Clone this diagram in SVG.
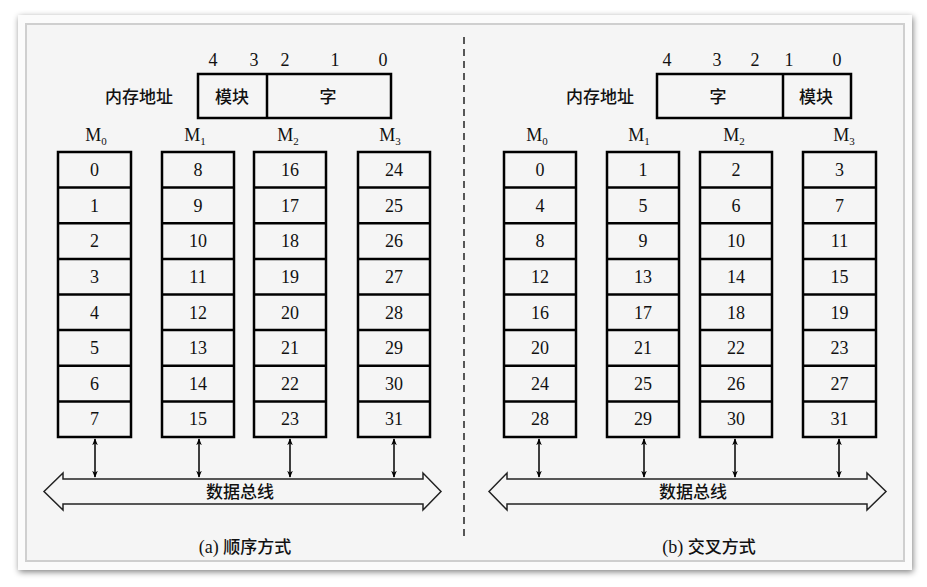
<svg xmlns="http://www.w3.org/2000/svg" width="927" height="587" viewBox="0 0 927 587">
<defs>
<filter id="sh" x="-5%" y="-5%" width="110%" height="110%"><feGaussianBlur in="SourceAlpha" stdDeviation="3"/><feOffset dx="1" dy="2"/><feComponentTransfer><feFuncA type="linear" slope="0.5"/></feComponentTransfer><feMerge><feMergeNode/><feMergeNode in="SourceGraphic"/></feMerge></filter>
<marker id="ah" viewBox="0 0 10 10" refX="9" refY="5" markerWidth="7" markerHeight="9" orient="auto-start-reverse" markerUnits="userSpaceOnUse"><path d="M0,1 L10,5 L0,9 L3,5 Z" fill="#000"/></marker>
<style>
.cell{fill:none;stroke:#000;stroke-width:2.5}
.t{font-family:"Liberation Serif","Times New Roman",serif;font-size:18px;fill:#111;text-anchor:middle}
.c{font-family:"Noto Sans CJK SC","Noto Sans CJK JP",sans-serif;font-size:17px;font-weight:500;fill:#111;text-anchor:middle}
.bus{fill:#f5f5f5;stroke:#222;stroke-width:1.5}
.va{stroke:#000;stroke-width:1.5;marker-start:url(#ah);marker-end:url(#ah)}
</style>
</defs>
<rect x="0" y="0" width="927" height="587" fill="#fff"/>
<rect x="18" y="15" width="894" height="555" fill="#fbfbfb" filter="url(#sh)"/>
<rect x="26" y="24" width="878" height="537" fill="#f5f5f5" stroke="#cfcfcf" stroke-width="2"/>
<line x1="464" y1="37" x2="464" y2="540" stroke="#222" stroke-width="1.5" stroke-dasharray="7,5"/>

<!-- Left: sequential -->
<g id="addrA">
<text class="c" x="139" y="103">内存地址</text>
<rect class="cell" x="198" y="74" width="193" height="44"/>
<line class="cell" x1="267" y1="74" x2="267" y2="118"/>
<text class="c" x="232" y="103">模块</text>
<text class="c" x="328" y="103">字</text>
<text class="t" x="213" y="66">4</text><text class="t" x="254" y="66">3</text><text class="t" x="285" y="66">2</text><text class="t" x="335" y="66">1</text><text class="t" x="383" y="66">0</text>
</g>
<g id="a-M0">
<text class="t" x="96" y="141">M<tspan font-size="11" dy="4">0</tspan></text>
<rect class="cell" x="58" y="152" width="73" height="285"/>
<path class="cell" d="M58,187.6H131M58,223.3H131M58,258.9H131M58,294.5H131M58,330.1H131M58,365.8H131M58,401.4H131"/>
<text class="t" x="94.5" y="176">0</text><text class="t" x="94.5" y="211.6">1</text><text class="t" x="94.5" y="247.3">2</text><text class="t" x="94.5" y="282.9">3</text><text class="t" x="94.5" y="318.5">4</text><text class="t" x="94.5" y="354.1">5</text><text class="t" x="94.5" y="389.8">6</text><text class="t" x="94.5" y="425.4">7</text>
</g>
<g id="a-M1">
<text class="t" x="195" y="141">M<tspan font-size="11" dy="4">1</tspan></text>
<rect class="cell" x="162" y="152" width="72" height="285"/>
<path class="cell" d="M162,187.6H234M162,223.3H234M162,258.9H234M162,294.5H234M162,330.1H234M162,365.8H234M162,401.4H234"/>
<text class="t" x="198" y="176">8</text><text class="t" x="198" y="211.6">9</text><text class="t" x="198" y="247.3">10</text><text class="t" x="198" y="282.9">11</text><text class="t" x="198" y="318.5">12</text><text class="t" x="198" y="354.1">13</text><text class="t" x="198" y="389.8">14</text><text class="t" x="198" y="425.4">15</text>
</g>
<g id="a-M2">
<text class="t" x="288" y="141">M<tspan font-size="11" dy="4">2</tspan></text>
<rect class="cell" x="254" y="152" width="72" height="285"/>
<path class="cell" d="M254,187.6H326M254,223.3H326M254,258.9H326M254,294.5H326M254,330.1H326M254,365.8H326M254,401.4H326"/>
<text class="t" x="290" y="176">16</text><text class="t" x="290" y="211.6">17</text><text class="t" x="290" y="247.3">18</text><text class="t" x="290" y="282.9">19</text><text class="t" x="290" y="318.5">20</text><text class="t" x="290" y="354.1">21</text><text class="t" x="290" y="389.8">22</text><text class="t" x="290" y="425.4">23</text>
</g>
<g id="a-M3">
<text class="t" x="390" y="141">M<tspan font-size="11" dy="4">3</tspan></text>
<rect class="cell" x="358" y="152" width="72" height="285"/>
<path class="cell" d="M358,187.6H430M358,223.3H430M358,258.9H430M358,294.5H430M358,330.1H430M358,365.8H430M358,401.4H430"/>
<text class="t" x="394" y="176">24</text><text class="t" x="394" y="211.6">25</text><text class="t" x="394" y="247.3">26</text><text class="t" x="394" y="282.9">27</text><text class="t" x="394" y="318.5">28</text><text class="t" x="394" y="354.1">29</text><text class="t" x="394" y="389.8">30</text><text class="t" x="394" y="425.4">31</text>
</g>
<g id="busA">
<polygon class="bus" points="44,491.5 63,473 63,479 423,479 423,473 441,491.5 423,510 423,504 63,504 63,510"/>
<text class="c" x="240" y="498">数据总线</text>
</g>
<text class="c" x="245" y="553"><tspan font-family="Liberation Serif,serif" font-size="18" font-weight="400">(a) </tspan>顺序方式</text>

<!-- Right: interleaved -->
<g id="addrB">
<text class="c" x="600" y="103">内存地址</text>
<rect class="cell" x="657" y="74" width="194" height="44"/>
<line class="cell" x1="783" y1="74" x2="783" y2="118"/>
<text class="c" x="718" y="103">字</text>
<text class="c" x="816" y="103">模块</text>
<text class="t" x="667" y="66">4</text><text class="t" x="717" y="66">3</text><text class="t" x="755" y="66">2</text><text class="t" x="789" y="66">1</text><text class="t" x="837" y="66">0</text>
</g>
<g id="b-M0">
<text class="t" x="537" y="141">M<tspan font-size="11" dy="4">0</tspan></text>
<rect class="cell" x="504" y="152" width="72" height="285"/>
<path class="cell" d="M504,187.6H576M504,223.3H576M504,258.9H576M504,294.5H576M504,330.1H576M504,365.8H576M504,401.4H576"/>
<text class="t" x="540" y="176">0</text><text class="t" x="540" y="211.6">4</text><text class="t" x="540" y="247.3">8</text><text class="t" x="540" y="282.9">12</text><text class="t" x="540" y="318.5">16</text><text class="t" x="540" y="354.1">20</text><text class="t" x="540" y="389.8">24</text><text class="t" x="540" y="425.4">28</text>
</g>
<g id="b-M1">
<text class="t" x="639" y="141">M<tspan font-size="11" dy="4">1</tspan></text>
<rect class="cell" x="607" y="152" width="72" height="285"/>
<path class="cell" d="M607,187.6H679M607,223.3H679M607,258.9H679M607,294.5H679M607,330.1H679M607,365.8H679M607,401.4H679"/>
<text class="t" x="643" y="176">1</text><text class="t" x="643" y="211.6">5</text><text class="t" x="643" y="247.3">9</text><text class="t" x="643" y="282.9">13</text><text class="t" x="643" y="318.5">17</text><text class="t" x="643" y="354.1">21</text><text class="t" x="643" y="389.8">25</text><text class="t" x="643" y="425.4">29</text>
</g>
<g id="b-M2">
<text class="t" x="734" y="141">M<tspan font-size="11" dy="4">2</tspan></text>
<rect class="cell" x="700" y="152" width="72" height="285"/>
<path class="cell" d="M700,187.6H772M700,223.3H772M700,258.9H772M700,294.5H772M700,330.1H772M700,365.8H772M700,401.4H772"/>
<text class="t" x="736" y="176">2</text><text class="t" x="736" y="211.6">6</text><text class="t" x="736" y="247.3">10</text><text class="t" x="736" y="282.9">14</text><text class="t" x="736" y="318.5">18</text><text class="t" x="736" y="354.1">22</text><text class="t" x="736" y="389.8">26</text><text class="t" x="736" y="425.4">30</text>
</g>
<g id="b-M3">
<text class="t" x="844" y="141">M<tspan font-size="11" dy="4">3</tspan></text>
<rect class="cell" x="803" y="152" width="73" height="285"/>
<path class="cell" d="M803,187.6H876M803,223.3H876M803,258.9H876M803,294.5H876M803,330.1H876M803,365.8H876M803,401.4H876"/>
<text class="t" x="839.5" y="176">3</text><text class="t" x="839.5" y="211.6">7</text><text class="t" x="839.5" y="247.3">11</text><text class="t" x="839.5" y="282.9">15</text><text class="t" x="839.5" y="318.5">19</text><text class="t" x="839.5" y="354.1">23</text><text class="t" x="839.5" y="389.8">27</text><text class="t" x="839.5" y="425.4">31</text>
</g>
<g id="busB">
<polygon class="bus" points="489,491.5 507,473 507,479 867,479 867,473 886,491.5 867,510 867,504 507,504 507,510"/>
<text class="c" x="693" y="498">数据总线</text>
</g>
<text class="c" x="709" y="553"><tspan font-family="Liberation Serif,serif" font-size="18" font-weight="400">(b) </tspan>交叉方式</text>

<g id="connectors">
<line class="va" x1="95" y1="439" x2="95" y2="477"/>
<line class="va" x1="199" y1="439" x2="199" y2="477"/>
<line class="va" x1="290" y1="439" x2="290" y2="477"/>
<line class="va" x1="394" y1="439" x2="394" y2="477"/>
<line class="va" x1="539" y1="439" x2="539" y2="477"/>
<line class="va" x1="644" y1="439" x2="644" y2="477"/>
<line class="va" x1="735" y1="439" x2="735" y2="477"/>
<line class="va" x1="839" y1="439" x2="839" y2="477"/>
</g>
</svg>
